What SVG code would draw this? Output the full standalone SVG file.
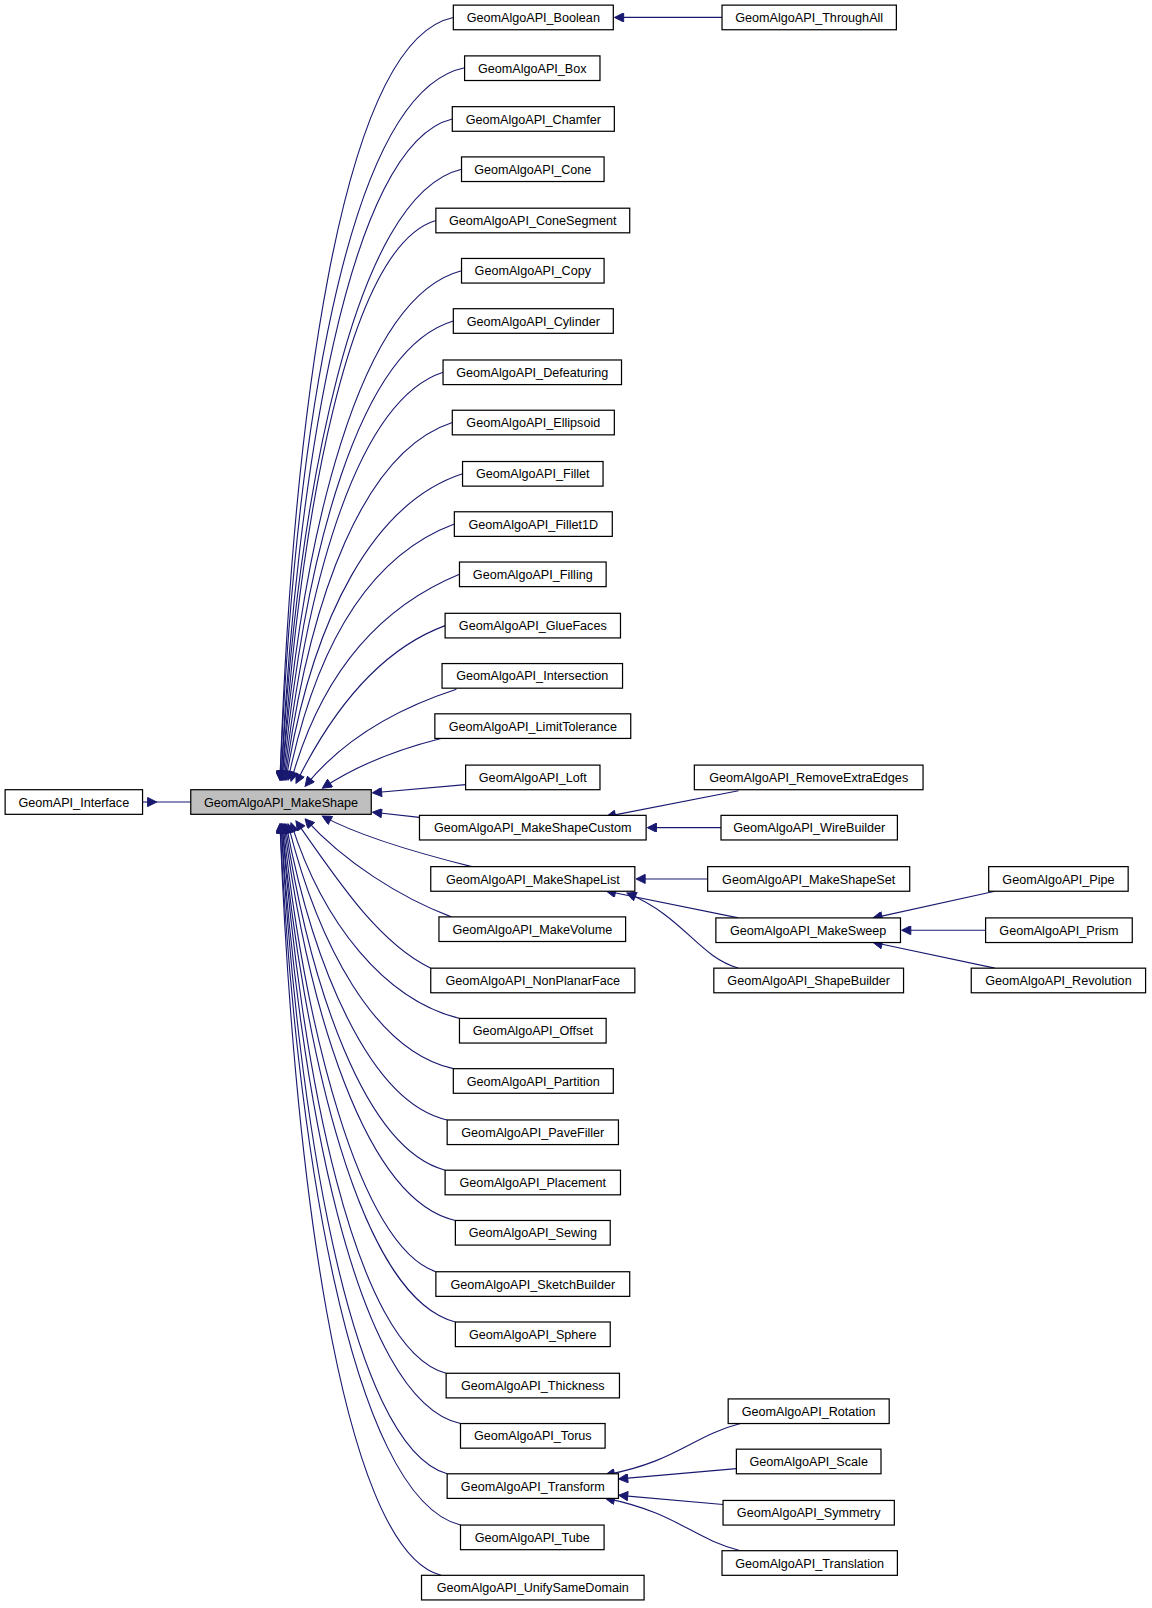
<svg xmlns="http://www.w3.org/2000/svg" width="1152" height="1608" viewBox="0 0 1152 1608">
<style>
.n rect{fill:#fff;stroke:#000;stroke-width:1.2}
.n text{font-family:"Liberation Sans",Arial,sans-serif;font-size:12.3px;text-anchor:middle;fill:#000}
.e path{fill:none;stroke:#191970;stroke-width:1.1;marker-end:url(#a)}
</style>
<defs><marker id="a" viewBox="0 0 10 10" refX="9" refY="5" markerWidth="11" markerHeight="9" markerUnits="userSpaceOnUse" orient="auto"><path d="M0,0L10,5L0,10z" fill="#191970" stroke="#191970"/></marker></defs>
<rect width="1152" height="1608" fill="#fff"/>
<g transform="scale(1.0256)">
<g class="e" id="edges">
<path d="M139,782H152"/>
<path d="M186,782H152" style="marker-end:none"/>
<path d="M442,17 C330,40 285,420 273,760"/>
<path d="M453,66 C335,90 287,440 273,760"/>
<path d="M441,116 C340,140 289,460 274,760"/>
<path d="M450,165 C345,190 291,480 274,760"/>
<path d="M425,215 C340,240 293,500 275,760"/>
<path d="M450,264 C350,290 295,520 275,760"/>
<path d="M442,313 C350,340 297,540 276,760"/>
<path d="M432,363 C350,390 300,560 277,760"/>
<path d="M441,412 C355,440 302,580 278,760"/>
<path d="M451,462 C365,490 305,600 279,760"/>
<path d="M443,511 C365,540 310,620 281,760"/>
<path d="M448,560 C375,590 315,650 284,761"/>
<path d="M434,610 C380,630 330,680 289,763"/>
<path d="M445,672 C390,690 335,720 298,766"/>
<path d="M430,720 C390,730 350,745 315,768"/>
<path d="M454,765 L364,773"/>
<path d="M409,797 L364,792"/>
<path d="M460,845 C400,830 350,815 315,796"/>
<path d="M440,894 C390,875 335,840 298,799"/>
<path d="M420,944 C370,920 330,860 289,801"/>
<path d="M448,993 C375,975 315,900 284,803"/>
<path d="M442,1042 C365,1025 310,920 281,804"/>
<path d="M436,1092 C360,1075 305,940 279,804"/>
<path d="M434,1141 C355,1120 302,960 278,804"/>
<path d="M444,1190 C355,1170 300,980 277,804"/>
<path d="M425,1240 C350,1215 297,1000 276,804"/>
<path d="M444,1289 C350,1265 295,1020 275,804"/>
<path d="M435,1339 C345,1315 293,1040 275,804"/>
<path d="M449,1388 C345,1365 291,1060 274,804"/>
<path d="M436,1437 C340,1410 289,1080 274,804"/>
<path d="M449,1487 C340,1460 287,1100 273,804"/>
<path d="M430,1536 C330,1510 285,1120 273,804"/>
<path d="M704,17 L600,17"/>
<path d="M720,771 L592,796"/>
<path d="M703,807 L632,807"/>
<path d="M690,857 L621,857"/>
<path d="M720,895 L592,869"/>
<path d="M720,944 C680,932 668,895 612,871"/>
<path d="M970,869 L852,895"/>
<path d="M961,907 L880,907"/>
<path d="M970,944 L852,919"/>
<path d="M722,1388 C675,1400 660,1425 591,1438"/>
<path d="M718,1432 L604,1442"/>
<path d="M705,1467 L604,1458"/>
<path d="M722,1512 C675,1500 660,1475 591,1461"/>
</g>
<g class="n" id="GeomAPI_Interface"><rect x="5" y="770" width="134" height="24"/><text x="72" y="786.5">GeomAPI_Interface</text></g>
<g class="n" id="GeomAlgoAPI_MakeShape"><rect x="186" y="770" width="176" height="24" style="fill:#bfbfbf"/><text x="274" y="786.5">GeomAlgoAPI_MakeShape</text></g>
<g class="n" id="Boolean"><rect x="442" y="5" width="156" height="24"/><text x="520" y="21.5">GeomAlgoAPI_Boolean</text></g>
<g class="n" id="Box"><rect x="453" y="54.5" width="132" height="24"/><text x="519" y="71">GeomAlgoAPI_Box</text></g>
<g class="n" id="Chamfer"><rect x="441" y="104" width="158" height="24"/><text x="520" y="120.5">GeomAlgoAPI_Chamfer</text></g>
<g class="n" id="Cone"><rect x="450" y="153" width="139" height="24"/><text x="519.5" y="169.5">GeomAlgoAPI_Cone</text></g>
<g class="n" id="ConeSegment"><rect x="425" y="203" width="189" height="24"/><text x="519.5" y="219.5">GeomAlgoAPI_ConeSegment</text></g>
<g class="n" id="Copy"><rect x="450" y="252" width="139" height="24"/><text x="519.5" y="268.5">GeomAlgoAPI_Copy</text></g>
<g class="n" id="Cylinder"><rect x="442" y="301" width="156" height="24"/><text x="520" y="317.5">GeomAlgoAPI_Cylinder</text></g>
<g class="n" id="Defeaturing"><rect x="432" y="351" width="174" height="24"/><text x="519" y="367.5">GeomAlgoAPI_Defeaturing</text></g>
<g class="n" id="Ellipsoid"><rect x="441" y="400" width="158" height="24"/><text x="520" y="416.5">GeomAlgoAPI_Ellipsoid</text></g>
<g class="n" id="Fillet"><rect x="451" y="450" width="137" height="24"/><text x="519.5" y="466.5">GeomAlgoAPI_Fillet</text></g>
<g class="n" id="Fillet1D"><rect x="443" y="499" width="154" height="24"/><text x="520" y="515.5">GeomAlgoAPI_Fillet1D</text></g>
<g class="n" id="Filling"><rect x="448" y="548" width="143" height="24"/><text x="519.5" y="564.5">GeomAlgoAPI_Filling</text></g>
<g class="n" id="GlueFaces"><rect x="434" y="598" width="171" height="24"/><text x="519.5" y="614.5">GeomAlgoAPI_GlueFaces</text></g>
<g class="n" id="Intersection"><rect x="431" y="647" width="176" height="24"/><text x="519" y="663.5">GeomAlgoAPI_Intersection</text></g>
<g class="n" id="LimitTolerance"><rect x="424" y="696" width="191" height="24"/><text x="519.5" y="712.5">GeomAlgoAPI_LimitTolerance</text></g>
<g class="n" id="Loft"><rect x="454" y="746" width="131" height="24"/><text x="519.5" y="762.5">GeomAlgoAPI_Loft</text></g>
<g class="n" id="MakeShapeCustom"><rect x="409" y="795" width="221" height="24"/><text x="519.5" y="811.5">GeomAlgoAPI_MakeShapeCustom</text></g>
<g class="n" id="MakeShapeList"><rect x="420" y="845" width="199" height="24"/><text x="519.5" y="861.5">GeomAlgoAPI_MakeShapeList</text></g>
<g class="n" id="MakeVolume"><rect x="428" y="894" width="182" height="24"/><text x="519" y="910.5">GeomAlgoAPI_MakeVolume</text></g>
<g class="n" id="NonPlanarFace"><rect x="420" y="944" width="199" height="24"/><text x="519.5" y="960.5">GeomAlgoAPI_NonPlanarFace</text></g>
<g class="n" id="Offset"><rect x="448" y="993" width="143" height="24"/><text x="519.5" y="1009.5">GeomAlgoAPI_Offset</text></g>
<g class="n" id="Partition"><rect x="442" y="1042" width="156" height="24"/><text x="520" y="1058.5">GeomAlgoAPI_Partition</text></g>
<g class="n" id="PaveFiller"><rect x="436" y="1092" width="167" height="24"/><text x="519.5" y="1108.5">GeomAlgoAPI_PaveFiller</text></g>
<g class="n" id="Placement"><rect x="434" y="1141" width="171" height="24"/><text x="519.5" y="1157.5">GeomAlgoAPI_Placement</text></g>
<g class="n" id="Sewing"><rect x="444" y="1190" width="151" height="24"/><text x="519.5" y="1206.5">GeomAlgoAPI_Sewing</text></g>
<g class="n" id="SketchBuilder"><rect x="425" y="1240" width="189" height="24"/><text x="519.5" y="1256.5">GeomAlgoAPI_SketchBuilder</text></g>
<g class="n" id="Sphere"><rect x="444" y="1289" width="151" height="24"/><text x="519.5" y="1305.5">GeomAlgoAPI_Sphere</text></g>
<g class="n" id="Thickness"><rect x="435" y="1339" width="169" height="24"/><text x="519.5" y="1355.5">GeomAlgoAPI_Thickness</text></g>
<g class="n" id="Torus"><rect x="449" y="1388" width="141" height="24"/><text x="519.5" y="1404.5">GeomAlgoAPI_Torus</text></g>
<g class="n" id="Transform"><rect x="436" y="1437" width="167" height="24"/><text x="519.5" y="1453.5">GeomAlgoAPI_Transform</text></g>
<g class="n" id="Tube"><rect x="449" y="1487" width="140" height="24"/><text x="519" y="1503.5">GeomAlgoAPI_Tube</text></g>
<g class="n" id="UnifySameDomain"><rect x="411" y="1536" width="217" height="24"/><text x="519.5" y="1552.5">GeomAlgoAPI_UnifySameDomain</text></g>
<g class="n" id="ThroughAll"><rect x="704" y="5" width="170" height="24"/><text x="789" y="21.5">GeomAlgoAPI_ThroughAll</text></g>
<g class="n" id="RemoveExtraEdges"><rect x="677" y="746" width="223" height="24"/><text x="788.5" y="762.5">GeomAlgoAPI_RemoveExtraEdges</text></g>
<g class="n" id="WireBuilder"><rect x="703" y="795" width="172" height="24"/><text x="789" y="811.5">GeomAlgoAPI_WireBuilder</text></g>
<g class="n" id="MakeShapeSet"><rect x="690" y="845" width="197" height="24"/><text x="788.5" y="861.5">GeomAlgoAPI_MakeShapeSet</text></g>
<g class="n" id="MakeSweep"><rect x="698" y="895" width="180" height="24"/><text x="788" y="911.5">GeomAlgoAPI_MakeSweep</text></g>
<g class="n" id="ShapeBuilder"><rect x="696" y="944" width="185" height="24"/><text x="788.5" y="960.5">GeomAlgoAPI_ShapeBuilder</text></g>
<g class="n" id="Pipe"><rect x="964" y="845" width="136" height="24"/><text x="1032" y="861.5">GeomAlgoAPI_Pipe</text></g>
<g class="n" id="Prism"><rect x="961" y="895" width="143" height="24"/><text x="1032.5" y="911.5">GeomAlgoAPI_Prism</text></g>
<g class="n" id="Revolution"><rect x="947" y="944" width="170" height="24"/><text x="1032" y="960.5">GeomAlgoAPI_Revolution</text></g>
<g class="n" id="Rotation"><rect x="710" y="1364" width="157" height="24"/><text x="788.5" y="1380.5">GeomAlgoAPI_Rotation</text></g>
<g class="n" id="Scale"><rect x="718" y="1413" width="141" height="24"/><text x="788.5" y="1429.5">GeomAlgoAPI_Scale</text></g>
<g class="n" id="Symmetry"><rect x="705" y="1463" width="167" height="24"/><text x="788.5" y="1479.5">GeomAlgoAPI_Symmetry</text></g>
<g class="n" id="Translation"><rect x="704" y="1512" width="171" height="24"/><text x="789.5" y="1528.5">GeomAlgoAPI_Translation</text></g>
</g>
</svg>
